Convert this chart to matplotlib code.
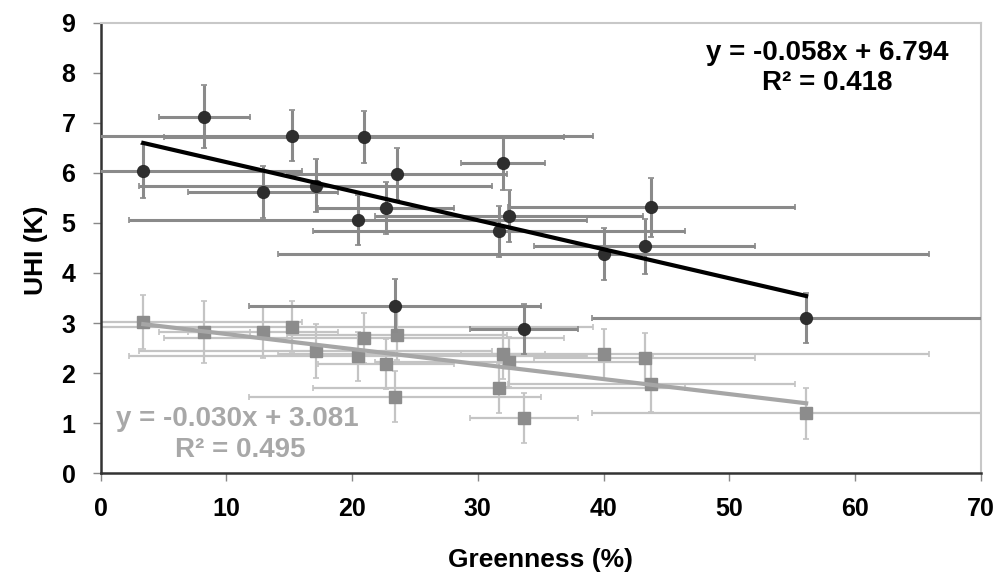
import numpy as np
import matplotlib
matplotlib.use("Agg")
import matplotlib.pyplot as plt

plt.rcParams['font.family'] = ['Liberation Sans', 'DejaVu Sans']

# greenness (%) of each site and its spread
greenness = [3.4, 8.25, 12.9, 15.25, 17.1, 20.5, 20.95, 22.7, 23.4, 23.6,
             31.7, 32.0, 32.46, 33.7, 40.0, 43.25, 43.8, 56.1]
greenness_err = [12.6, 3.6, 5.95, 23.9, 14.0, 18.2, 15.9, 5.4, 11.6, 8.75,
                 14.8, 3.35, 10.65, 4.3, 25.9, 8.8, 11.4, 17.0]

# UHI series 1 (black circles)
uhi_black = [6.04, 7.12, 5.62, 6.74, 5.74, 5.06, 6.72, 5.29, 3.35, 5.98,
             4.83, 6.19, 5.14, 2.88, 4.38, 4.53, 5.31, 3.10]
uhi_black_err = [0.54, 0.63, 0.52, 0.51, 0.53, 0.50, 0.52, 0.52, 0.53, 0.52,
                 0.51, 0.53, 0.52, 0.50, 0.52, 0.55, 0.59, 0.50]

# UHI series 2 (grey squares)
uhi_grey = [3.03, 2.82, 2.82, 2.93, 2.44, 2.34, 2.70, 2.18, 1.53, 2.76,
            1.70, 2.38, 2.23, 1.10, 2.38, 2.30, 1.78, 1.20]
uhi_grey_err = [0.54, 0.62, 0.51, 0.51, 0.54, 0.49, 0.50, 0.50, 0.51, 0.50,
                0.50, 0.50, 0.50, 0.50, 0.50, 0.50, 0.56, 0.51]

# trend lines as printed on the chart
fit_black = (-0.058, 6.794, 0.418)
fit_grey = (-0.030, 3.081, 0.495)

fig = plt.figure(figsize=(10, 5.8), dpi=100)
ax = fig.add_axes([0.1005, 0.184, 0.8805, 0.777])

# grey series
ax.errorbar(greenness, uhi_grey, xerr=greenness_err, yerr=uhi_grey_err,
            fmt='none', ecolor='#c4c4c4', elinewidth=1.6, capsize=2, capthick=1.2, zorder=2)
ax.plot(greenness, uhi_grey, 's', color='#8c8c8c', markersize=8, zorder=3)

# black series
ax.errorbar(greenness, uhi_black, xerr=greenness_err, yerr=uhi_black_err,
            fmt='none', ecolor='#8a8a8a', elinewidth=2.2, capsize=2, capthick=1.2, zorder=4)
ax.plot(greenness, uhi_black, 'o', color='#2e2e2e', markersize=8.5, zorder=5)

# linear trends across the data range
xs = np.array([min(greenness), max(greenness)])
ax.plot(xs, fit_grey[0] * xs + fit_grey[1], color='#a6a6a6', lw=3, zorder=6)
ax.plot(xs, fit_black[0] * xs + fit_black[1], color='black', lw=3, zorder=7)

ax.text(57.8, 8.4, 'y = %.3fx + %.3f' % (fit_black[0], fit_black[1]),
        ha='center', va='center', fontsize=20, fontweight='bold', color='black')
ax.text(57.8, 7.8, 'R² = %.3f' % fit_black[2],
        ha='center', va='center', fontsize=20, fontweight='bold', color='black')
ax.text(10.9, 1.08, 'y = %.3fx + %.3f' % (fit_grey[0], fit_grey[1]),
        ha='center', va='center', fontsize=20, fontweight='bold', color='#a8a8a8')
ax.text(11.1, 0.46, 'R² = %.3f' % fit_grey[2],
        ha='center', va='center', fontsize=20, fontweight='bold', color='#a8a8a8')

ax.set_xlim(0, 70)
ax.set_ylim(0, 9)
ax.set_xticks(range(0, 71, 10))
ax.set_yticks(range(0, 10))

for side in ['left', 'bottom']:
    ax.spines[side].set_color('#333333')
    ax.spines[side].set_linewidth(1.8)
for side in ['top', 'right']:
    ax.spines[side].set_color('#c8c8c8')
    ax.spines[side].set_linewidth(1.5)

ax.tick_params(direction='out', length=6, width=1, color='#888888', labelsize=18)
ax.tick_params(axis='y', pad=12)
ax.tick_params(axis='x', pad=11)
for lab in ax.get_xticklabels() + ax.get_yticklabels():
    lab.set_fontweight('bold')

ax.set_xlabel('Greenness (%)', fontsize=19, fontweight='bold')
ax.set_ylabel('UHI (K)', fontsize=19, fontweight='bold')
ax.xaxis.set_label_coords(0.5, -0.165)
ax.yaxis.set_label_coords(-0.06, 0.495)

fig.savefig('out.png', dpi=100)
